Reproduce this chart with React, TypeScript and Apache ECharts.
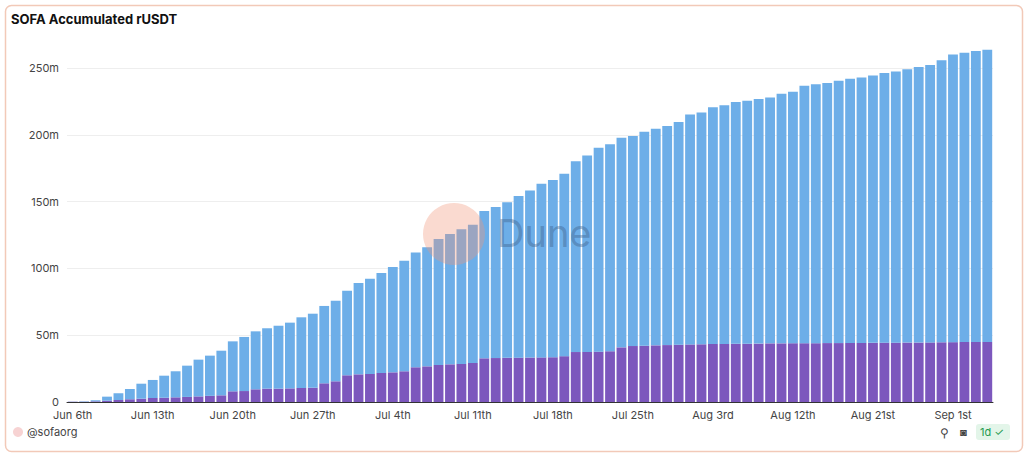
import React, { useEffect, useRef } from "react";
import * as echarts from "echarts";

const tickLabels = ["Jun 6th", "Jun 13th", "Jun 20th", "Jun 27th", "Jul 4th", "Jul 11th", "Jul 18th", "Jul 25th", "Aug 3rd", "Aug 12th", "Aug 21st", "Sep 1st"];

const totalValues = [
  0.3, 0.5, 1.3, 4, 6.5, 9.7, 13.7, 16.5, 19.7, 23, 27.2, 31.7, 34.7, 38.4, 45.4, 48.7, 52.9, 55.2, 57.1, 59.4,
  63.4, 66.1, 71.9, 75.8, 83.3, 89.1, 92.3, 96.6, 101, 105.8, 112, 115.8, 122, 125.7, 129.3, 132.7, 143, 146,
  149.5, 154.2, 158.4, 163.4, 166.2, 170.9, 180.2, 184.6, 190.4, 192.9, 197.8, 199.1, 202.3, 204.6, 206.6, 209.6,
  215.3, 216.8, 220.6, 222.1, 224.6, 225.5, 226.8, 228, 230.8, 232.3, 236.8, 237.8, 238.8, 240.5, 242, 243, 244.5,
  246.3, 247.5, 249, 250.7, 252.2, 255.8, 260.2, 261.5, 262.7, 263.7,
];

const purpleValues = [
  0.2, 0.2, 0.5, 1, 1.5, 2, 2.5, 3, 3.2, 3.5, 3.8, 4.2, 4.6, 5, 8, 8.2, 9.5, 10, 10, 10.2,
  10.5, 10.7, 14, 15.5, 20, 20.7, 21, 21.7, 22.2, 23, 26, 26.7, 27.7, 28.2, 28.5, 29.2, 32.7, 32.9,
  33.1, 33.2, 33.3, 33.4, 33.5, 34.3, 37.4, 37.5, 37.7, 38, 40.9, 41.9, 42.1, 42.4, 42.6, 42.9,
  43.1, 43.2, 43.4, 43.5, 43.6, 43.6, 43.7, 43.9, 43.9, 44, 44, 44, 44.1, 44.1, 44.2, 44.2, 44.3,
  44.4, 44.4, 44.5, 44.5, 44.6, 44.7, 44.8, 44.9, 45, 45,
];

const blueValues = totalValues.map((t, i) => +(t - purpleValues[i]).toFixed(2));
const categories = totalValues.map((_, i) => String(i));

export default function App() {
  const ref = useRef<HTMLDivElement>(null);
  useEffect(() => {
    document.body.style.margin = "0";
    const chart = echarts.init(ref.current!, undefined, { renderer: "svg" });
    const font = "Inter, 'Noto Sans', sans-serif";
    chart.setOption({
      animation: false,
      textStyle: { fontFamily: font },
      grid: { left: 67, right: 31, top: 48, bottom: 51 },
      xAxis: {
        type: "category",
        data: categories,
        axisTick: { show: false },
        axisLine: { lineStyle: { color: "#333", width: 1 } },
        axisLabel: {
          interval: 6,
          color: "#444",
          fontSize: 11,
          margin: 7,
          formatter: (v: string) => tickLabels[Number(v) / 7] ?? "",
        },
      },
      yAxis: {
        type: "value",
        min: 0,
        max: 265,
        interval: 50,
        axisLabel: {
          color: "#444",
          fontSize: 11,
          showMaxLabel: false,
          formatter: (v: number) => (v === 0 ? "0" : v + "m"),
        },
        splitLine: { showMaxLine: false, lineStyle: { color: "#eeeeee" } },
      },
      series: [
        { name: "a", type: "bar", stack: "s", data: purpleValues, itemStyle: { color: "#7c57bd" }, barCategoryGap: "14%" },
        { name: "b", type: "bar", stack: "s", data: blueValues, itemStyle: { color: "#6daee8" } },
      ],
      graphic: [
        { type: "rect", left: 3, top: 3, shape: { width: 1017, height: 446, r: 6 }, style: { fill: "none", stroke: "#f2c9b8", lineWidth: 1.5 }, z: -10 },
        { type: "text", left: 11, top: 12, style: { text: "SOFA Accumulated rUSDT", font: `bold 13px ${font}`, fill: "#111" } },
        { type: "circle", shape: { cx: 454, cy: 234, r: 31 }, style: { fill: "rgba(240,150,120,0.35)" }, z: 10 },
        { type: "text", left: 497, top: 214, style: { text: "Dune", font: `38px ${font}`, fill: "rgba(60,90,130,0.4)" }, z: 10 },
        { type: "circle", shape: { cx: 18, cy: 432, r: 5 }, style: { fill: "#f7d3d3" } },
        { type: "text", left: 27, top: 426, style: { text: "@sofaorg", font: `11px ${font}`, fill: "#444" } },
        { type: "text", left: 940, top: 426, style: { text: "⚲", font: `12px ${font}`, fill: "#444" } },
        { type: "text", left: 960, top: 426, style: { text: "◙", font: `11px ${font}`, fill: "#444" } },
        { type: "rect", left: 976, top: 424, shape: { width: 34, height: 16, r: 3 }, style: { fill: "#e3f5e9" } },
        { type: "text", left: 980, top: 426, style: { text: "1d ✓", font: `11px ${font}`, fill: "#1e9a50" } },
      ],
    });
    return () => chart.dispose();
  }, []);
  return <div ref={ref} style={{ width: 1024, height: 453 }} />;
}
